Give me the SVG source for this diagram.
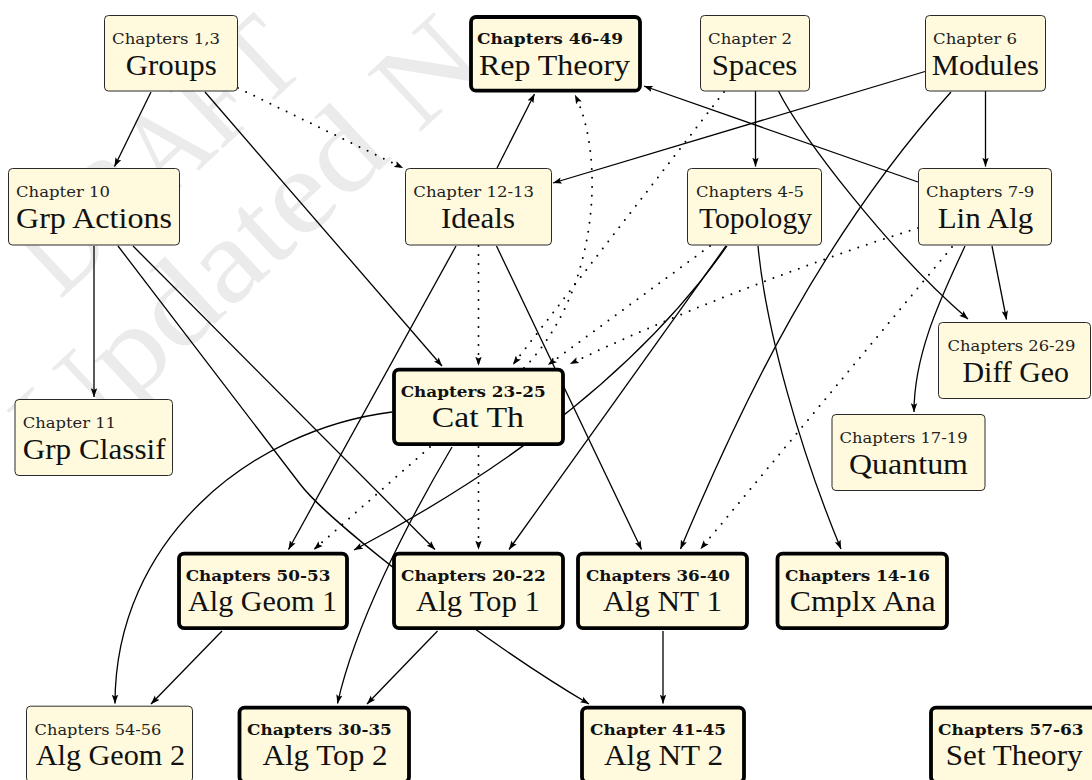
<svg xmlns="http://www.w3.org/2000/svg" width="1092" height="780" viewBox="0 0 1092 780">
<defs>
<style>
.n rect{fill:#fffade;stroke:#2a2a2a;stroke-width:1}
.b rect{fill:#fffade;stroke:#000;stroke-width:3.8}
.s{font-family:"DejaVu Serif","Liberation Serif",serif;font-size:14.5px;fill:#222}
.sb{font-family:"DejaVu Serif","Liberation Serif",serif;font-size:14px;font-weight:bold;fill:#111}
.t{font-family:"Liberation Serif","Times New Roman",serif;font-size:30px;fill:#111}
.e{fill:none;stroke:#000;stroke-width:1.3;marker-end:url(#ah)}
.d{fill:none;stroke:#000;stroke-width:2;stroke-linecap:round;stroke-dasharray:0 9;marker-end:url(#ah)}
.wm{fill:#ebebeb;font-family:"Liberation Serif","Times New Roman",serif;font-size:120px}
</style>
<marker id="ah" viewBox="0 0 9 7" refX="8.8" refY="3.5" markerWidth="9" markerHeight="7" markerUnits="userSpaceOnUse" orient="auto">
<path d="M0,0.3 L9,3.5 L0,6.7 L1.8,3.5 Z" fill="#000"/>
</marker>
</defs>
<rect width="1092" height="780" fill="#fff"/>
<g id="watermark">
<text class="wm" transform="translate(60,300) rotate(-43)" textLength="340" lengthAdjust="spacingAndGlyphs">DRAFT</text>
<text class="wm" transform="translate(58,470) rotate(-43)" textLength="590" lengthAdjust="spacingAndGlyphs">Updated N</text>
</g>
<g id="edges">
<path class="e" d="M151,92 L114.5,166.5"/>
<path class="e" d="M205,92 L442,366"/>
<path class="e" d="M497,168 L534.5,94"/>
<path class="e" d="M925,71.5 L553,183"/>
<path class="e" d="M918,182 L644,86"/>
<path class="e" d="M755.5,91 L755.5,166.5"/>
<path class="e" d="M985.5,91 L985.5,166.5"/>
<path class="e" d="M778.5,91 C800,135 890,252 968,319"/>
<path class="e" d="M951,92 C822,236 744,398 680.5,549"/>
<path class="e" d="M758,246 C766,330 800,450 841,549"/>
<path class="e" d="M992,246 L1006.5,319.5"/>
<path class="e" d="M965,246 C945,290 914,350 914,412"/>
<path class="e" d="M456,246 L288.5,549.5"/>
<path class="e" d="M496.5,246 L641.5,549.5"/>
<path class="e" d="M94,246 L94,397"/>
<path class="e" d="M133,246 L435,549.5"/>
<path class="e" d="M118,246 L300,484 C330.6,524 487,644 589,704"/>
<path class="e" d="M392,412 C250,430 115,540 115,703.5"/>
<path class="e" d="M452,447 C406,525 355,625 337.5,703.5"/>
<path class="e" d="M727,246 C640,370 505,470 354,550"/>
<path class="e" d="M726,246 L509,549.5"/>
<path class="e" d="M222,631 L151,704"/>
<path class="e" d="M437.5,631 L367,704"/>
<path class="e" d="M663,631 L663,703.5"/>
<path class="d" d="M238,88 L403,168"/>
<path class="d" d="M478.5,246 L478.5,365.5"/>
<path class="d" d="M724,92 L513,364.5"/>
<path class="d" d="M710,246 L548,365"/>
<path class="d" d="M918,228 C800,265 660,320 570,364"/>
<path class="d" d="M524,368 C600,290 605,155 575,95"/>
<path class="d" d="M430,447 L314,549.5"/>
<path class="d" d="M478.5,447 L478.5,549.5"/>
<path class="d" d="M952,247 L700.5,549"/>
</g>
<g id="groups" class="n"><rect x="104.5" y="15.5" width="133" height="75.5" rx="4"/>
<text class="s" x="112" y="44" textLength="108" lengthAdjust="spacingAndGlyphs">Chapters 1,3</text>
<text class="t" x="125.7" y="74.5" textLength="91" lengthAdjust="spacingAndGlyphs">Groups</text></g>
<g id="reptheory" class="b"><rect x="471" y="17" width="169" height="73.7" rx="5"/>
<text class="sb" x="477" y="44" textLength="146" lengthAdjust="spacingAndGlyphs">Chapters 46-49</text>
<text class="t" x="479" y="74.5" textLength="151" lengthAdjust="spacingAndGlyphs">Rep Theory</text></g>
<g id="spaces" class="n"><rect x="700.5" y="15.5" width="109" height="75.5" rx="4"/>
<text class="s" x="708" y="44" textLength="84" lengthAdjust="spacingAndGlyphs">Chapter 2</text>
<text class="t" x="711.7" y="74.5" textLength="85.7" lengthAdjust="spacingAndGlyphs">Spaces</text></g>
<g id="modules" class="n"><rect x="925.5" y="15.5" width="120" height="75.5" rx="4"/>
<text class="s" x="933" y="44" textLength="84" lengthAdjust="spacingAndGlyphs">Chapter 6</text>
<text class="t" x="931.8" y="74.5" textLength="107" lengthAdjust="spacingAndGlyphs">Modules</text></g>
<g id="grpactions" class="n"><rect x="8.5" y="168.5" width="171" height="76.5" rx="4"/>
<text class="s" x="16" y="197" textLength="94" lengthAdjust="spacingAndGlyphs">Chapter 10</text>
<text class="t" x="16" y="227.5" textLength="156" lengthAdjust="spacingAndGlyphs">Grp Actions</text></g>
<g id="ideals" class="n"><rect x="405.5" y="168.5" width="146" height="76.5" rx="4"/>
<text class="s" x="413.3" y="197" textLength="120.7" lengthAdjust="spacingAndGlyphs">Chapter 12-13</text>
<text class="t" x="441" y="227.5" textLength="74" lengthAdjust="spacingAndGlyphs">Ideals</text></g>
<g id="topology" class="n"><rect x="687.5" y="168.5" width="134" height="76.5" rx="4"/>
<text class="s" x="696" y="197" textLength="108" lengthAdjust="spacingAndGlyphs">Chapters 4-5</text>
<text class="t" x="699" y="227.5" textLength="113" lengthAdjust="spacingAndGlyphs">Topology</text></g>
<g id="linalg" class="n"><rect x="918.5" y="168.5" width="133" height="76.5" rx="4"/>
<text class="s" x="926" y="197" textLength="108.3" lengthAdjust="spacingAndGlyphs">Chapters 7-9</text>
<text class="t" x="937.7" y="227.5" textLength="95.6" lengthAdjust="spacingAndGlyphs">Lin Alg</text></g>
<g id="diffgeo" class="n"><rect x="938.5" y="322.5" width="152" height="76" rx="4"/>
<text class="s" x="947.4" y="351" textLength="128" lengthAdjust="spacingAndGlyphs">Chapters 26-29</text>
<text class="t" x="962.5" y="381.5" textLength="106.5" lengthAdjust="spacingAndGlyphs">Diff Geo</text></g>
<g id="catth" class="b"><rect x="394" y="369.6" width="169" height="74.5" rx="5"/>
<text class="sb" x="400.7" y="396.7" textLength="145" lengthAdjust="spacingAndGlyphs">Chapters 23-25</text>
<text class="t" x="431.7" y="427.2" textLength="92.3" lengthAdjust="spacingAndGlyphs">Cat Th</text></g>
<g id="grpclassif" class="n"><rect x="15" y="399.5" width="157.5" height="76" rx="4"/>
<text class="s" x="22.7" y="428" textLength="93.3" lengthAdjust="spacingAndGlyphs">Chapter 11</text>
<text class="t" x="22.7" y="458.5" textLength="143" lengthAdjust="spacingAndGlyphs">Grp Classif</text></g>
<g id="quantum" class="n"><rect x="832" y="414.5" width="153" height="76" rx="4"/>
<text class="s" x="839.6" y="443" textLength="128" lengthAdjust="spacingAndGlyphs">Chapters 17-19</text>
<text class="t" x="849" y="473.5" textLength="119" lengthAdjust="spacingAndGlyphs">Quantum</text></g>
<g id="alggeom1" class="b"><rect x="179" y="553.6" width="168" height="74.5" rx="5"/>
<text class="sb" x="185.7" y="580.7" textLength="144.7" lengthAdjust="spacingAndGlyphs">Chapters 50-53</text>
<text class="t" x="188" y="611.2" textLength="149" lengthAdjust="spacingAndGlyphs">Alg Geom 1</text></g>
<g id="algtop1" class="b"><rect x="394" y="553.6" width="169" height="74.5" rx="5"/>
<text class="sb" x="401" y="580.7" textLength="144.7" lengthAdjust="spacingAndGlyphs">Chapters 20-22</text>
<text class="t" x="416" y="611.2" textLength="124" lengthAdjust="spacingAndGlyphs">Alg Top 1</text></g>
<g id="algnt1" class="b"><rect x="578" y="553.6" width="169" height="74.5" rx="5"/>
<text class="sb" x="586" y="580.7" textLength="144" lengthAdjust="spacingAndGlyphs">Chapters 36-40</text>
<text class="t" x="603" y="611.2" textLength="119" lengthAdjust="spacingAndGlyphs">Alg NT 1</text></g>
<g id="cmplxana" class="b"><rect x="777.5" y="553.6" width="169.5" height="74.5" rx="5"/>
<text class="sb" x="785" y="580.7" textLength="145" lengthAdjust="spacingAndGlyphs">Chapters 14-16</text>
<text class="t" x="789.7" y="611.2" textLength="146" lengthAdjust="spacingAndGlyphs">Cmplx Ana</text></g>
<g id="alggeom2" class="n"><rect x="26.5" y="706.2" width="166" height="76" rx="4"/>
<text class="s" x="34.6" y="734.7" textLength="126.8" lengthAdjust="spacingAndGlyphs">Chapters 54-56</text>
<text class="t" x="35.7" y="765.2" textLength="149.3" lengthAdjust="spacingAndGlyphs">Alg Geom 2</text></g>
<g id="algtop2" class="b"><rect x="239.5" y="707.6" width="169.5" height="74.5" rx="5"/>
<text class="sb" x="247" y="734.7" textLength="144.8" lengthAdjust="spacingAndGlyphs">Chapters 30-35</text>
<text class="t" x="262.5" y="765.2" textLength="125" lengthAdjust="spacingAndGlyphs">Alg Top 2</text></g>
<g id="algnt2" class="b"><rect x="582" y="707.6" width="162" height="74.5" rx="5"/>
<text class="sb" x="590" y="734.7" textLength="136" lengthAdjust="spacingAndGlyphs">Chapter 41-45</text>
<text class="t" x="604" y="765.2" textLength="119" lengthAdjust="spacingAndGlyphs">Alg NT 2</text></g>
<g id="settheory" class="b"><rect x="931" y="707.6" width="170" height="74.5" rx="5"/>
<text class="sb" x="938" y="734.7" textLength="145.6" lengthAdjust="spacingAndGlyphs">Chapters 57-63</text>
<text class="t" x="945.8" y="765.2" textLength="136.8" lengthAdjust="spacingAndGlyphs">Set Theory</text></g>
</svg>
